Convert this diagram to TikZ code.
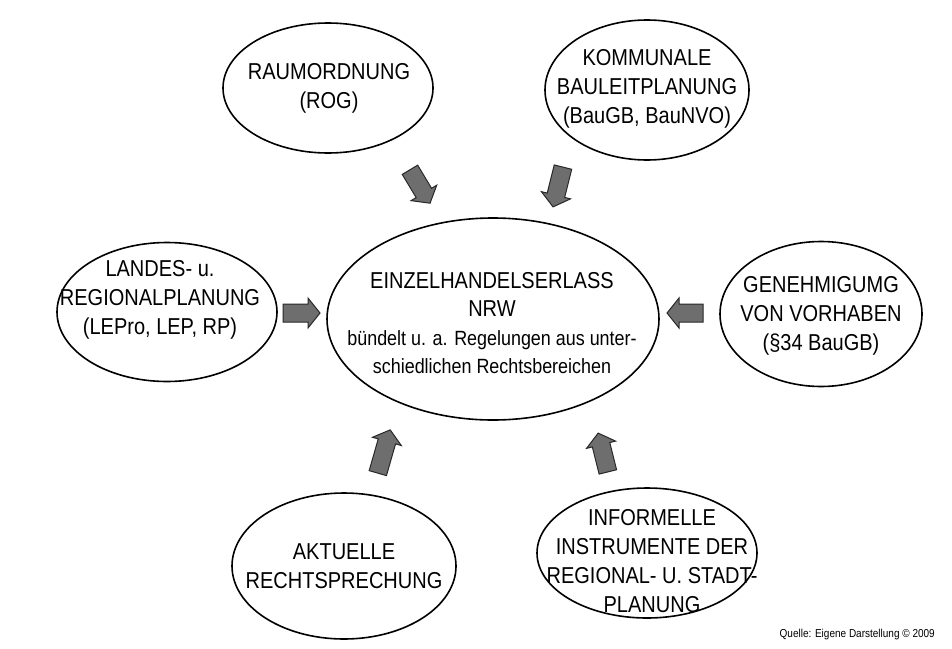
\documentclass[tikz,border=0pt]{standalone}
\usepackage{fontspec}
\setmainfont{Liberation Sans}[FakeStretch=0.87]
\usetikzlibrary{shapes.geometric}
\definecolor{arrowfill}{RGB}{110,110,110}
\definecolor{arrowline}{RGB}{40,40,40}
\begin{document}
\begin{tikzpicture}[x=1pt,y=-1pt,
  bubble/.style={draw,ellipse,line width=1.6pt,inner sep=0pt},
  lbl/.style={align=center,font=\fontsize{23}{29}\selectfont,inner sep=0pt},
  arrowstyle/.style={draw=arrowline,fill=arrowfill,line width=1pt,line join=miter},
  blockarrow/.pic={
    \coordinate (-c) at (0,0);
    \draw[arrowstyle] (-#1/2,-9) -- (#1/2-12,-9) -- (#1/2-12,-15) -- (#1/2,0)
      -- (#1/2-12,15) -- (#1/2-12,9) -- (-#1/2,9) -- cycle;
  },
]
\fill[white] (0,0) rectangle (952,648);
\useasboundingbox (0,0) rectangle (952,648);

% ellipses
\node[bubble,minimum width=210pt,minimum height=130pt] (raum) at (328,88) {};
\node[bubble,minimum width=204pt,minimum height=140pt] (komm) at (647,90) {};
\node[bubble,minimum width=220pt,minimum height=139pt] (landes) at (167,312) {};
\node[bubble,minimum width=332pt,minimum height=202pt] (center) at (493,319) {};
\node[bubble,minimum width=202pt,minimum height=145pt] (geneh) at (821,314) {};
\node[bubble,minimum width=224pt,minimum height=146pt] (akt) at (344,566) {};
\node[bubble,minimum width=220pt,minimum height=130pt] (inf) at (647,553) {};

% texts
\node[lbl] (raumT) at (329,88) {RAUMORDNUNG\\(ROG)};
\node[lbl] (kommT) at (647,89) {KOMMUNALE\\BAULEITPLANUNG\\(BauGB, BauNVO)};
\node[lbl] (landesT) at (160,300) {LANDES- u.\\REGIONALPLANUNG\\(LEPro, LEP, RP)};
\node[lbl,font=\fontsize{23}{28.5}\selectfont] (centerT) at (492,323)
  {EINZELHANDELSERLASS\\NRW\\{\fontsize{20.6}{28.5}\selectfont bündelt u. a. Regelungen aus unter-}\\{\fontsize{20.6}{28.5}\selectfont schiedlichen Rechtsbereichen}};
\node[lbl] (genehT) at (821,316) {GENEHMIGUMG\\VON VORHABEN\\(§34 BauGB)};
\node[lbl] (aktT) at (344,566) {AKTUELLE\\RECHTSPRECHUNG};
\node[lbl] (infT) at (652,561) {INFORMELLE\\INSTRUMENTE DER\\REGIONAL- U. STADT-\\PLANUNG};

% block arrows
\pic[rotate=-59] (a1) at (420,186.5) {blockarrow=39};
\pic[rotate=-104] (a2) at (558,187) {blockarrow=41};
\pic[rotate=0] (a3) at (301.5,313) {blockarrow=37};
\pic[rotate=180] (a4) at (685,313) {blockarrow=36};
\pic[rotate=74] (a5) at (384,451.5) {blockarrow=45};
\pic[rotate=104] (a6) at (603,452.5) {blockarrow=40};

% source
\node[anchor=east,inner sep=0pt,font=\fontsize{11.5}{13}\selectfont] (src) at (935,635)
  {Quelle: Eigene Darstellung © 2009};
\end{tikzpicture}
\end{document}
